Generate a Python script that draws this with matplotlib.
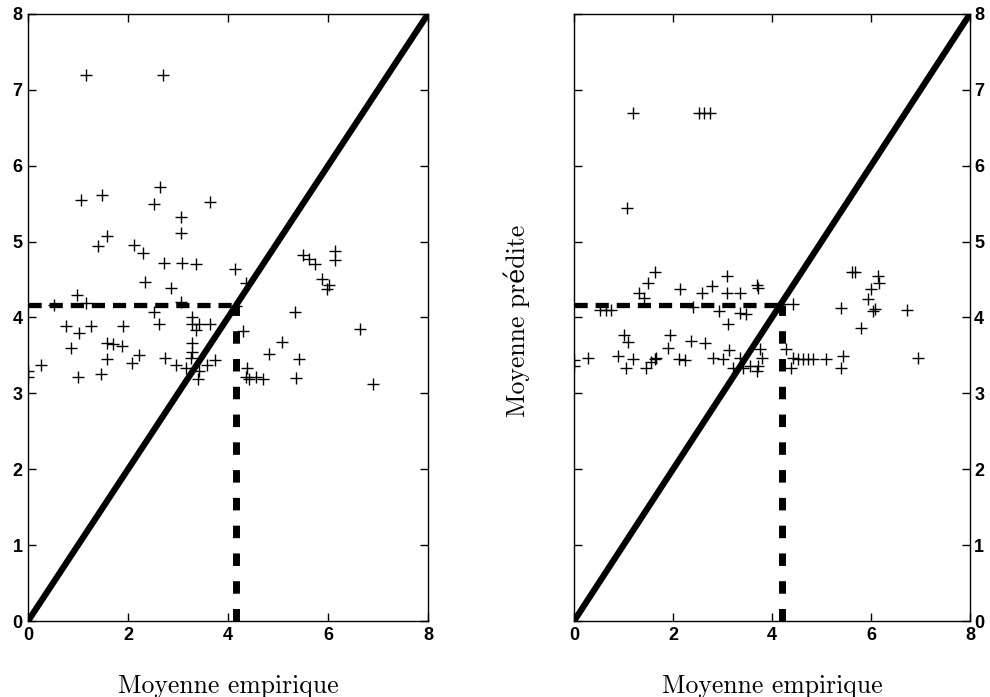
import matplotlib
matplotlib.use('Agg')
import matplotlib.pyplot as plt

# left panel: empirical mean vs predicted mean
x_left = [1.16, 2.70, 1.05, 1.48, 2.63, 2.51, 3.64, 3.05, 3.05, 1.57,
          1.39, 2.11, 2.30, 2.72, 3.08, 3.35, 4.14, 4.36, 2.34, 2.86,
          0.98, 1.16, 0.52, 3.05, 2.51, 4.16, 5.35, 5.51, 5.63, 5.74,
          6.14, 6.14, 5.89, 6.02, 5.98, 6.64,
          0.00, 0.00, 0.26, 0.75, 1.02, 1.26, 0.86, 1.00, 1.45, 1.57,
          1.57, 1.70, 1.87, 1.89, 2.07, 2.22, 2.61, 2.74, 2.95, 3.16,
          3.28, 3.28, 3.36, 3.43, 3.64, 3.27, 3.28, 3.26, 3.43, 3.39,
          3.59, 3.75, 4.31, 4.38, 4.36, 4.57, 4.70, 4.43, 4.82, 5.09,
          5.43, 5.37, 6.91]
y_left = [7.19, 7.19, 5.55, 5.62, 5.72, 5.50, 5.52, 5.32, 5.11, 5.07,
          4.94, 4.96, 4.85, 4.72, 4.72, 4.71, 4.64, 4.46, 4.47, 4.39,
          4.30, 4.19, 4.16, 4.21, 4.07, 4.15, 4.07, 4.82, 4.77, 4.70,
          4.87, 4.76, 4.51, 4.43, 4.37, 3.85,
          3.30, 3.22, 3.38, 3.89, 3.79, 3.89, 3.60, 3.22, 3.25, 3.45,
          3.67, 3.65, 3.63, 3.89, 3.40, 3.50, 3.91, 3.46, 3.38, 3.33,
          4.00, 3.91, 3.84, 3.91, 3.91, 3.67, 3.54, 3.47, 3.30, 3.19,
          3.38, 3.44, 3.82, 3.34, 3.21, 3.22, 3.19, 3.19, 3.52, 3.68,
          3.45, 3.20, 3.12]

# right panel
x_right = [1.19, 2.53, 2.63, 2.74, 1.07, 1.63, 1.50, 1.31, 1.41, 2.14,
           2.59, 2.78, 3.09, 3.09, 3.35, 3.69, 3.72, 0.52, 0.65, 0.75,
           2.41, 2.92, 3.35, 3.48, 3.11, 4.20, 4.43, 5.40, 5.61, 5.67,
           6.15, 6.17, 6.01, 5.94, 6.08, 6.04, 6.72, 5.79,
           0.00, 0.00, 0.28, 0.89, 1.19, 1.05, 1.01, 1.09, 1.46, 1.56,
           1.63, 1.66, 1.93, 1.90, 2.12, 2.25, 2.37, 2.64, 2.81, 3.00,
           3.13, 3.21, 3.35, 3.42, 3.55, 3.69, 3.72, 3.75, 3.79, 4.29,
           4.43, 4.53, 4.63, 4.73, 4.83, 5.10, 5.44, 5.40, 4.39, 6.95]
y_right = [6.70, 6.70, 6.70, 6.70, 5.44, 4.60, 4.46, 4.32, 4.26, 4.37,
           4.32, 4.41, 4.55, 4.32, 4.32, 4.43, 4.39, 4.10, 4.10, 4.10,
           4.14, 4.08, 4.06, 4.04, 3.91, 4.18, 4.18, 4.13, 4.60, 4.60,
           4.55, 4.45, 4.37, 4.24, 4.11, 4.08, 4.10, 3.86,
           3.44, 3.36, 3.46, 3.49, 3.45, 3.34, 3.77, 3.68, 3.34, 3.41,
           3.45, 3.47, 3.77, 3.60, 3.45, 3.44, 3.69, 3.66, 3.47, 3.45,
           3.57, 3.34, 3.47, 3.34, 3.36, 3.30, 3.36, 3.58, 3.47, 3.58,
           3.46, 3.45, 3.45, 3.45, 3.45, 3.45, 3.49, 3.34, 3.34, 3.46]

# overall means (dashed guide lines)
mean_left = (4.17, 4.17)
mean_right = (4.20, 4.17)

ticks = [0, 2, 4, 6, 8]
yticks = [0, 1, 2, 3, 4, 5, 6, 7, 8]

fig = plt.figure(figsize=(9.9, 6.97), dpi=100)
ax1 = fig.add_axes([0.0283, 0.109, 0.404, 0.871])
ax2 = fig.add_axes([0.5798, 0.109, 0.400, 0.871])

tick_font = {'family': 'Liberation Sans', 'size': 13, 'weight': 'bold'}

for ax, xs, ys, (mx, my) in [(ax1, x_left, y_left, mean_left),
                             (ax2, x_right, y_right, mean_right)]:
    # diagonal y = x
    ax.plot([0, 8], [0, 8], color='black', lw=4.5, solid_capstyle='butt', zorder=3)
    # mean guides
    ax.plot([0, mx], [my, my], color='black', lw=3.8, dashes=(2.5, 1.5),
            dash_capstyle='butt', zorder=2)
    ax.plot([mx, mx], [0, my], color='black', lw=5.0, dashes=(1.8, 2.2),
            dash_capstyle='butt', zorder=2)
    # points
    ax.plot(xs, ys, linestyle='none', marker='+', color='black',
            markersize=9, markeredgewidth=1.0, zorder=4)

    ax.set_xlim(0, 8)
    ax.set_ylim(0, 8)
    ax.set_xticks(ticks)
    ax.set_yticks(yticks)
    ax.tick_params(direction='in', length=6, width=1, top=True, right=True,
                   pad=4)
    for sp in ax.spines.values():
        sp.set_linewidth(1.0)

ax1.set_xticklabels([str(t) for t in ticks], fontdict=tick_font)
ax2.set_xticklabels([str(t) for t in ticks], fontdict=tick_font)
ax1.set_yticklabels([str(t) for t in yticks], fontdict=tick_font)
ax2.yaxis.tick_right()
ax2.yaxis.set_ticks_position('both')
ax2.tick_params(axis='y', labelleft=False, labelright=True, pad=3)
ax2.set_yticklabels([str(t) for t in yticks], fontdict=tick_font)

label_font = ['cmr10', 'DejaVu Serif']
ax1.set_xlabel('Moyenne empirique', family=label_font, fontsize=18.5, labelpad=22)
ax2.set_xlabel('Moyenne empirique', family=label_font, fontsize=18.5, labelpad=22)
fig.text(0.522, 0.54, 'Moyenne prédite', family=label_font, fontsize=18.5,
         rotation=90, ha='center', va='center')

fig.savefig('out.png', dpi=100)
